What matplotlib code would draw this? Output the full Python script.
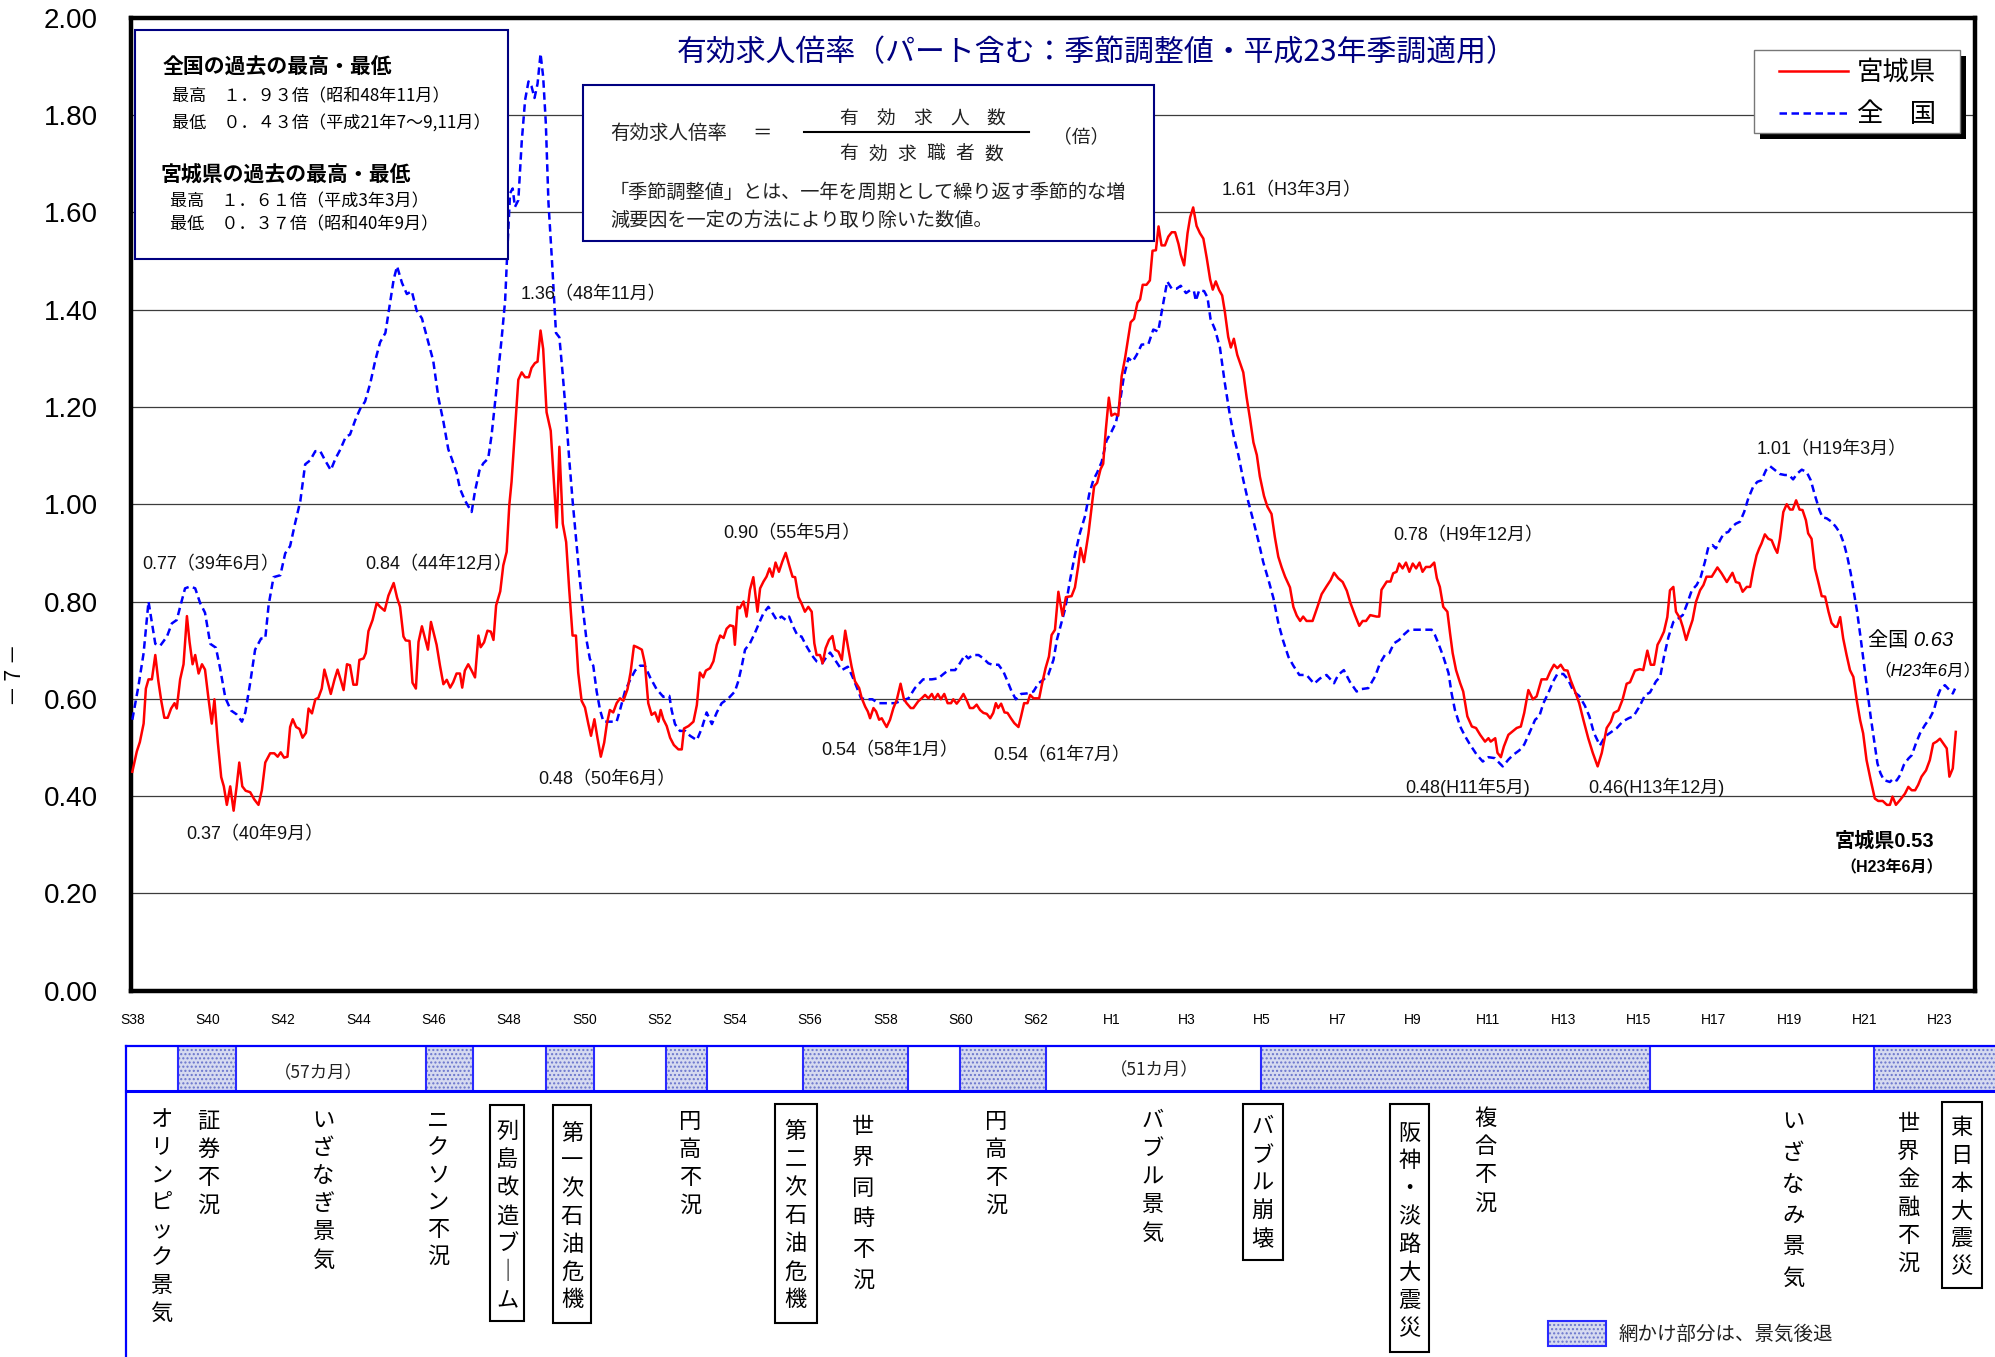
import matplotlib
matplotlib.use("Agg")
import matplotlib.pyplot as plt
from matplotlib.patches import Rectangle

# ------------------------------------------------------------------ data
miyagi_t = [
    1963.00, 1963.12, 1963.20, 1963.30, 1963.36, 1963.43, 1963.52, 1963.61, 1963.69, 1963.77,
    1963.85, 1963.94, 1964.03, 1964.12, 1964.18, 1964.27, 1964.36, 1964.45, 1964.52, 1964.60,
    1964.67, 1964.76, 1964.85, 1964.93, 1965.02, 1965.11, 1965.18, 1965.27, 1965.36, 1965.43,
    1965.51, 1965.60, 1965.69, 1965.77, 1965.84, 1965.92, 1966.01, 1966.13, 1966.24, 1966.35,
    1966.44, 1966.53, 1966.66, 1966.77, 1966.86, 1966.94, 1967.03, 1967.12, 1967.19, 1967.26,
    1967.35, 1967.44, 1967.52, 1967.61, 1967.68, 1967.77, 1967.86, 1967.94, 1968.03, 1968.10,
    1968.17, 1968.27, 1968.37, 1968.45, 1968.54, 1968.61, 1968.70, 1968.78, 1968.87, 1968.96,
    1969.03, 1969.14, 1969.20, 1969.27, 1969.38, 1969.49, 1969.58, 1969.70, 1969.80, 1969.94,
    1970.03, 1970.11, 1970.20, 1970.26, 1970.36, 1970.44, 1970.53, 1970.60, 1970.69, 1970.76,
    1970.85, 1970.93,
    1971.08, 1971.17, 1971.26, 1971.35, 1971.44, 1971.52, 1971.61, 1971.70, 1971.76, 1971.83,
    1971.92, 1972.01, 1972.10, 1972.19, 1972.25, 1972.34, 1972.43, 1972.52, 1972.59, 1972.66,
    1972.77, 1972.85, 1972.94, 1973.01, 1973.07, 1973.16, 1973.25, 1973.34, 1973.43, 1973.53,
    1973.60, 1973.69, 1973.76, 1973.84, 1973.91, 1974.00, 1974.11, 1974.18, 1974.27, 1974.34,
    1974.43, 1974.52, 1974.60, 1974.69, 1974.78, 1974.84, 1974.93, 1975.02, 1975.11, 1975.18,
    1975.27, 1975.35, 1975.44, 1975.53, 1975.60, 1975.68, 1975.77, 1975.86, 1975.95, 1976.04,
    1976.15, 1976.23, 1976.32, 1976.41, 1976.53, 1976.61, 1976.70, 1976.79, 1976.88, 1976.97,
    1977.03, 1977.10, 1977.19, 1977.28, 1977.38, 1977.50, 1977.59, 1977.65, 1977.77, 1977.90,
    1977.99, 1978.07, 1978.16, 1978.23, 1978.34, 1978.43, 1978.52, 1978.61, 1978.70, 1978.78,
    1978.87, 1978.96,
    1979.00, 1979.07, 1979.13, 1979.23, 1979.31, 1979.40, 1979.49, 1979.60, 1979.67, 1979.76,
    1979.84, 1979.92, 1980.00, 1980.08, 1980.17, 1980.26, 1980.35, 1980.44, 1980.53, 1980.60,
    1980.69, 1980.77, 1980.86, 1980.95, 1981.04, 1981.11, 1981.17, 1981.26, 1981.33, 1981.41,
    1981.50, 1981.59, 1981.66, 1981.75, 1981.84, 1981.93, 1982.01, 1982.10, 1982.19, 1982.30,
    1982.37, 1982.46, 1982.53, 1982.59, 1982.68, 1982.75, 1982.83, 1982.90, 1982.97, 1983.03,
    1983.12, 1983.21, 1983.30, 1983.40, 1983.49, 1983.56, 1983.67, 1983.74, 1983.87, 1983.96,
    1984.05, 1984.14, 1984.23, 1984.30, 1984.39, 1984.47, 1984.56, 1984.65, 1984.74, 1984.80,
    1984.89, 1984.98, 1985.07, 1985.16, 1985.24, 1985.33, 1985.42, 1985.51, 1985.60, 1985.69,
    1985.78, 1985.86, 1985.93, 1985.99, 1986.07, 1986.16, 1986.24, 1986.33, 1986.42, 1986.53,
    1986.60, 1986.68, 1986.77, 1986.84, 1986.93, 1987.08, 1987.16, 1987.25, 1987.34, 1987.41,
    1987.50, 1987.59,
    1987.70, 1987.79, 1987.94, 1988.03, 1988.12, 1988.18, 1988.27, 1988.39, 1988.47, 1988.54,
    1988.62, 1988.71, 1988.78, 1988.85, 1988.93, 1989.00, 1989.09, 1989.18, 1989.27, 1989.36,
    1989.51, 1989.60, 1989.69, 1989.76, 1989.83, 1989.93, 1990.02, 1990.09, 1990.18, 1990.25,
    1990.33, 1990.42, 1990.51, 1990.60, 1990.69, 1990.78, 1990.84, 1990.93, 1991.02, 1991.09,
    1991.17, 1991.26, 1991.35, 1991.44, 1991.53, 1991.62, 1991.69, 1991.77, 1991.86, 1991.94,
    1992.01, 1992.10, 1992.17, 1992.25, 1992.34, 1992.50, 1992.59, 1992.68, 1992.77, 1992.86,
    1992.94, 1993.05, 1993.14, 1993.25, 1993.34, 1993.43, 1993.52, 1993.61, 1993.74, 1993.83,
    1993.92, 1994.01, 1994.09, 1994.18, 1994.34, 1994.47, 1994.58, 1994.71, 1994.82, 1994.91,
    1995.02, 1995.14, 1995.25, 1995.35, 1995.47, 1995.58, 1995.67, 1995.76,
    1995.87, 1996.04, 1996.11, 1996.17, 1996.31, 1996.41, 1996.48, 1996.57, 1996.64, 1996.73,
    1996.82, 1996.91, 1997.00, 1997.09, 1997.18, 1997.26, 1997.35, 1997.46, 1997.57, 1997.64,
    1997.72, 1997.81, 1997.92, 1997.99, 1998.06, 1998.15, 1998.26, 1998.34, 1998.45, 1998.57,
    1998.68, 1998.79, 1998.92, 1999.01, 1999.07, 1999.19, 1999.25, 1999.34, 1999.42, 1999.54,
    1999.65, 1999.76, 1999.87, 1999.96, 2000.07, 2000.19, 2000.29, 2000.42, 2000.56, 2000.65,
    2000.75, 2000.84, 2000.93, 2001.02, 2001.11, 2001.19, 2001.31, 2001.42, 2001.53, 2001.66,
    2001.78, 2001.91, 2002.02, 2002.15, 2002.26, 2002.34, 2002.46, 2002.57, 2002.68, 2002.77,
    2002.90, 2003.03, 2003.12, 2003.23, 2003.32, 2003.41, 2003.50,
    2003.57, 2003.67, 2003.76, 2003.83, 2003.92, 2003.99, 2004.10, 2004.17, 2004.26, 2004.34,
    2004.43, 2004.52, 2004.63, 2004.72, 2004.80, 2004.94, 2005.09, 2005.20, 2005.34, 2005.49,
    2005.58, 2005.67, 2005.76, 2005.87, 2005.96, 2006.04, 2006.13, 2006.20, 2006.26, 2006.35,
    2006.44, 2006.53, 2006.62, 2006.68, 2006.75, 2006.84, 2006.93, 2007.02, 2007.09, 2007.18,
    2007.27, 2007.35, 2007.44, 2007.50, 2007.59, 2007.68, 2007.77, 2007.86, 2007.95, 2008.04,
    2008.12, 2008.21, 2008.27, 2008.35, 2008.43, 2008.52, 2008.61, 2008.70, 2008.79, 2008.88,
    2008.96, 2009.05, 2009.16, 2009.27, 2009.36, 2009.48, 2009.59, 2009.67, 2009.74, 2009.83,
    2009.94, 2010.07, 2010.16, 2010.25, 2010.34, 2010.42, 2010.51, 2010.63, 2010.73, 2010.82,
    2010.91, 2011.00, 2011.09, 2011.18, 2011.25, 2011.34, 2011.42,
]
miyagi_v = [
    0.450, 0.492, 0.511, 0.549, 0.621, 0.640, 0.640, 0.690, 0.637, 0.595,
    0.561, 0.561, 0.580, 0.591, 0.580, 0.640, 0.671, 0.770, 0.717, 0.671,
    0.690, 0.652, 0.671, 0.660, 0.602, 0.549, 0.599, 0.511, 0.439, 0.420,
    0.382, 0.420, 0.370, 0.420, 0.469, 0.420, 0.411, 0.408, 0.393, 0.382,
    0.412, 0.469, 0.488, 0.488, 0.481, 0.490, 0.479, 0.481, 0.542, 0.558,
    0.542, 0.538, 0.520, 0.530, 0.580, 0.570, 0.599, 0.602, 0.621, 0.660,
    0.640, 0.610, 0.640, 0.660, 0.637, 0.618, 0.671, 0.669, 0.629, 0.629,
    0.680, 0.683, 0.694, 0.739, 0.762, 0.797, 0.789, 0.781, 0.812, 0.838,
    0.808, 0.789, 0.728, 0.720, 0.719, 0.633, 0.621, 0.717, 0.749, 0.728,
    0.701, 0.758,
    0.711, 0.668, 0.630, 0.639, 0.623, 0.634, 0.652, 0.652, 0.623, 0.658,
    0.671, 0.658, 0.644, 0.730, 0.706, 0.716, 0.740, 0.738, 0.721, 0.792,
    0.821, 0.874, 0.902, 0.998, 1.046, 1.151, 1.256, 1.271, 1.261, 1.261,
    1.280, 1.290, 1.293, 1.357, 1.319, 1.189, 1.151, 1.065, 0.952, 1.118,
    0.960, 0.922, 0.826, 0.730, 0.730, 0.654, 0.596, 0.582, 0.548, 0.524,
    0.558, 0.520, 0.481, 0.510, 0.548, 0.577, 0.572, 0.591, 0.601, 0.596,
    0.620, 0.654, 0.709, 0.706, 0.701, 0.673, 0.591, 0.567, 0.572, 0.553,
    0.577, 0.558, 0.544, 0.520, 0.505, 0.496, 0.496, 0.539, 0.544, 0.553,
    0.587, 0.654, 0.644, 0.658, 0.663, 0.677, 0.711, 0.730, 0.725, 0.744,
    0.751, 0.749,
    0.711, 0.789, 0.786, 0.800, 0.769, 0.824, 0.850, 0.779, 0.827, 0.841,
    0.851, 0.868, 0.851, 0.880, 0.861, 0.882, 0.900, 0.875, 0.851, 0.850,
    0.809, 0.796, 0.779, 0.789, 0.779, 0.714, 0.690, 0.690, 0.673, 0.704,
    0.721, 0.729, 0.701, 0.697, 0.680, 0.740, 0.704, 0.666, 0.636, 0.622,
    0.601, 0.584, 0.574, 0.560, 0.581, 0.574, 0.557, 0.560, 0.550, 0.542,
    0.557, 0.581, 0.598, 0.631, 0.599, 0.591, 0.581, 0.581, 0.595, 0.601,
    0.608, 0.601, 0.610, 0.599, 0.610, 0.599, 0.610, 0.591, 0.591, 0.599,
    0.590, 0.599, 0.610, 0.596, 0.581, 0.581, 0.588, 0.577, 0.571, 0.569,
    0.560, 0.571, 0.591, 0.581, 0.590, 0.572, 0.571, 0.560, 0.550, 0.542,
    0.564, 0.591, 0.591, 0.608, 0.601, 0.601, 0.632, 0.663, 0.687, 0.731,
    0.742, 0.820,
    0.771, 0.809, 0.811, 0.829, 0.874, 0.910, 0.881, 0.940, 0.991, 1.037,
    1.044, 1.072, 1.083, 1.153, 1.219, 1.182, 1.186, 1.182, 1.263, 1.300,
    1.374, 1.381, 1.414, 1.421, 1.451, 1.451, 1.460, 1.521, 1.522, 1.571,
    1.532, 1.532, 1.550, 1.559, 1.559, 1.535, 1.513, 1.491, 1.557, 1.590,
    1.610, 1.572, 1.557, 1.546, 1.506, 1.462, 1.441, 1.458, 1.440, 1.429,
    1.396, 1.344, 1.322, 1.340, 1.307, 1.271, 1.219, 1.175, 1.127, 1.101,
    1.057, 1.017, 0.995, 0.980, 0.932, 0.892, 0.870, 0.851, 0.829, 0.789,
    0.771, 0.760, 0.769, 0.760, 0.760, 0.789, 0.815, 0.831, 0.844, 0.859,
    0.848, 0.840, 0.822, 0.796, 0.771, 0.750, 0.760, 0.760,
    0.772, 0.769, 0.769, 0.824, 0.841, 0.841, 0.858, 0.861, 0.878, 0.868,
    0.880, 0.861, 0.878, 0.868, 0.880, 0.861, 0.871, 0.871, 0.880, 0.848,
    0.830, 0.789, 0.779, 0.735, 0.694, 0.659, 0.632, 0.615, 0.564, 0.543,
    0.540, 0.526, 0.512, 0.519, 0.512, 0.519, 0.489, 0.480, 0.502, 0.526,
    0.533, 0.540, 0.543, 0.571, 0.618, 0.599, 0.605, 0.640, 0.640, 0.656,
    0.670, 0.663, 0.670, 0.659, 0.658, 0.639, 0.615, 0.591, 0.557, 0.519,
    0.489, 0.461, 0.489, 0.540, 0.553, 0.571, 0.576, 0.598, 0.631, 0.634,
    0.658, 0.661, 0.659, 0.699, 0.670, 0.670, 0.711,
    0.721, 0.738, 0.768, 0.823, 0.830, 0.779, 0.765, 0.748, 0.721, 0.741,
    0.762, 0.799, 0.823, 0.834, 0.851, 0.851, 0.870, 0.858, 0.840, 0.859,
    0.840, 0.838, 0.820, 0.830, 0.830, 0.864, 0.895, 0.909, 0.919, 0.938,
    0.929, 0.926, 0.909, 0.900, 0.929, 0.984, 1.000, 0.989, 0.989, 1.008,
    0.989, 0.988, 0.967, 0.940, 0.929, 0.868, 0.840, 0.811, 0.810, 0.779,
    0.756, 0.748, 0.748, 0.768, 0.724, 0.690, 0.659, 0.645, 0.597, 0.556,
    0.529, 0.474, 0.433, 0.395, 0.390, 0.390, 0.382, 0.382, 0.399, 0.382,
    0.392, 0.405, 0.419, 0.412, 0.412, 0.423, 0.440, 0.453, 0.474, 0.508,
    0.512, 0.518, 0.508, 0.498, 0.440, 0.457, 0.532,
]

national_t = [
    1963.00, 1963.16, 1963.30, 1963.43, 1963.61, 1963.74, 1963.92, 1964.05, 1964.18, 1964.27,
    1964.40, 1964.54, 1964.67, 1964.80, 1964.93, 1965.07, 1965.22, 1965.33, 1965.47, 1965.62,
    1965.77, 1965.91, 1966.00, 1966.13, 1966.26, 1966.42, 1966.53, 1966.62, 1966.75, 1966.93,
    1967.06, 1967.19, 1967.32, 1967.46, 1967.59, 1967.72, 1967.86, 1967.99, 1968.12, 1968.27,
    1968.39, 1968.52, 1968.67, 1968.78, 1968.92, 1969.05, 1969.18, 1969.32, 1969.45, 1969.58,
    1969.72, 1969.82, 1969.94, 1970.03, 1970.16, 1970.29, 1970.42, 1970.55, 1970.69, 1970.82,
    1970.99, 1971.13, 1971.26, 1971.39, 1971.48, 1971.61, 1971.70, 1971.83, 1971.97, 1972.01,
    1972.10, 1972.22, 1972.32, 1972.45, 1972.54, 1972.67, 1972.81, 1972.90, 1972.96, 1973.03,
    1973.10, 1973.16, 1973.25, 1973.34, 1973.43, 1973.52, 1973.60, 1973.68, 1973.76, 1973.84,
    1973.91, 1973.98, 1974.05, 1974.14, 1974.25, 1974.34, 1974.43, 1974.52, 1974.60, 1974.69,
    1974.78, 1974.87, 1974.96, 1975.06, 1975.15, 1975.24, 1975.33, 1975.42, 1975.51, 1975.64,
    1975.86, 1975.95, 1976.08, 1976.22, 1976.35, 1976.48, 1976.61, 1976.75, 1976.92, 1977.10,
    1977.26, 1977.32, 1977.41, 1977.54, 1977.68, 1977.81, 1977.99, 1978.12, 1978.25, 1978.39,
    1978.52, 1978.65, 1978.83,
    1979.00, 1979.09, 1979.18, 1979.27, 1979.40, 1979.53, 1979.64, 1979.76, 1979.89, 1980.00,
    1980.11, 1980.24, 1980.35, 1980.44, 1980.55, 1980.67, 1980.77, 1980.91, 1981.04, 1981.17,
    1981.32, 1981.44, 1981.53, 1981.66, 1981.84, 1982.00, 1982.12, 1982.23, 1982.35, 1982.50,
    1982.65, 1982.81, 1983.08, 1983.25, 1983.43, 1983.61, 1983.78, 1984.00, 1984.23, 1984.40,
    1984.54, 1984.67, 1984.85, 1984.95, 1985.11, 1985.20, 1985.31, 1985.47, 1985.60, 1985.73,
    1985.84, 1986.00, 1986.13, 1986.24, 1986.35, 1986.46, 1986.60, 1986.75, 1986.93, 1987.06,
    1987.19, 1987.32, 1987.46, 1987.55,
    1987.77, 1987.90, 1988.03, 1988.16, 1988.30, 1988.41, 1988.52, 1988.62, 1988.74, 1988.87,
    1989.00, 1989.12, 1989.23, 1989.33, 1989.45, 1989.56, 1989.67, 1989.80, 1989.98, 1990.11,
    1990.24, 1990.36, 1990.48, 1990.60, 1990.73, 1990.84, 1990.98, 1991.09, 1991.19, 1991.24,
    1991.33, 1991.46, 1991.55, 1991.63, 1991.75, 1991.88, 1992.01, 1992.13, 1992.24, 1992.37,
    1992.50, 1992.63, 1992.77, 1992.90, 1993.03, 1993.17, 1993.30, 1993.43, 1993.56, 1993.70,
    1993.83, 1993.99, 1994.18, 1994.38, 1994.54, 1994.71, 1994.91, 1995.02, 1995.17, 1995.33,
    1995.51, 1995.64, 1995.82,
    1996.00, 1996.13, 1996.26, 1996.38, 1996.50, 1996.64, 1996.75, 1996.91, 1997.10, 1997.33,
    1997.50, 1997.59, 1997.68, 1997.81, 1997.95, 1998.03, 1998.12, 1998.26, 1998.39, 1998.52,
    1998.70, 1998.86, 1999.01, 1999.18, 1999.30, 1999.39, 1999.54, 1999.67, 1999.83, 1999.96,
    2000.10, 2000.25, 2000.36, 2000.47, 2000.60, 2000.73, 2000.84, 2001.00, 2001.13, 2001.27,
    2001.42, 2001.57, 2001.69, 2001.81, 2001.97, 2002.11, 2002.24, 2002.42, 2002.57, 2002.73,
    2002.86, 2003.02, 2003.17, 2003.30, 2003.46,
    2003.57, 2003.67, 2003.79, 2003.92, 2004.05, 2004.17, 2004.27, 2004.41, 2004.54, 2004.65,
    2004.76, 2004.85, 2004.96, 2005.05, 2005.16, 2005.26, 2005.38, 2005.47, 2005.58, 2005.69,
    2005.80, 2005.91, 2006.04, 2006.15, 2006.26, 2006.38, 2006.49, 2006.62, 2006.75, 2006.88,
    2006.99, 2007.10, 2007.21, 2007.33, 2007.46, 2007.57, 2007.68, 2007.80, 2007.88, 2007.99,
    2008.12, 2008.24, 2008.35, 2008.45, 2008.54, 2008.63, 2008.72, 2008.80, 2008.89, 2008.98,
    2009.07, 2009.16, 2009.25, 2009.34, 2009.42, 2009.51, 2009.67, 2009.76, 2009.85, 2009.94,
    2010.04, 2010.16, 2010.25, 2010.36, 2010.47, 2010.60, 2010.73, 2010.84, 2010.93, 2011.02,
    2011.13, 2011.25, 2011.34, 2011.40,
]
national_v = [
    0.557, 0.625, 0.694, 0.800, 0.713, 0.709, 0.728, 0.755, 0.762, 0.789,
    0.827, 0.831, 0.827, 0.797, 0.777, 0.713, 0.705, 0.663, 0.602, 0.576,
    0.568, 0.553, 0.572, 0.633, 0.701, 0.724, 0.724, 0.793, 0.850, 0.854,
    0.899, 0.914, 0.960, 1.006, 1.082, 1.090, 1.109, 1.109, 1.090, 1.070,
    1.093, 1.112, 1.139, 1.143, 1.173, 1.196, 1.211, 1.249, 1.295, 1.333,
    1.352, 1.402, 1.462, 1.489, 1.455, 1.432, 1.438, 1.398, 1.382, 1.344,
    1.295, 1.218, 1.170, 1.113, 1.094, 1.065, 1.032, 1.008, 0.989, 0.984,
    1.027, 1.070, 1.084, 1.094, 1.142, 1.237, 1.343, 1.419, 1.524, 1.639,
    1.649, 1.611, 1.625, 1.745, 1.831, 1.869, 1.859, 1.835, 1.864, 1.926,
    1.878, 1.783, 1.620, 1.505, 1.352, 1.343, 1.266, 1.180, 1.094, 1.008,
    0.931, 0.855, 0.788, 0.721, 0.682, 0.668, 0.615, 0.577, 0.553, 0.553,
    0.553, 0.577, 0.615, 0.639, 0.658, 0.668, 0.668, 0.644, 0.620, 0.604,
    0.606, 0.577, 0.548, 0.534, 0.534, 0.524, 0.515, 0.539, 0.572, 0.548,
    0.572, 0.591, 0.601,
    0.615, 0.636, 0.666, 0.701, 0.714, 0.735, 0.755, 0.776, 0.789, 0.776,
    0.762, 0.769, 0.762, 0.769, 0.748, 0.729, 0.728, 0.707, 0.690, 0.677,
    0.673, 0.687, 0.695, 0.680, 0.659, 0.666, 0.646, 0.625, 0.601, 0.599,
    0.599, 0.591, 0.591, 0.591, 0.596, 0.601, 0.622, 0.640, 0.640, 0.642,
    0.651, 0.659, 0.659, 0.670, 0.690, 0.683, 0.690, 0.690, 0.683, 0.673,
    0.670, 0.670, 0.656, 0.636, 0.615, 0.599, 0.610, 0.611, 0.615, 0.632,
    0.639, 0.649, 0.680, 0.721,
    0.785, 0.844, 0.896, 0.940, 0.976, 1.021, 1.050, 1.065, 1.087, 1.131,
    1.149, 1.168, 1.212, 1.263, 1.300, 1.293, 1.307, 1.328, 1.329, 1.359,
    1.355, 1.407, 1.458, 1.443, 1.443, 1.449, 1.434, 1.440, 1.438, 1.418,
    1.440, 1.438, 1.425, 1.381, 1.359, 1.322, 1.249, 1.190, 1.142, 1.101,
    1.050, 1.006, 0.965, 0.925, 0.881, 0.844, 0.807, 0.756, 0.719, 0.686,
    0.668, 0.649, 0.649, 0.631, 0.642, 0.649, 0.632, 0.649, 0.659, 0.635,
    0.615, 0.620, 0.622,
    0.646, 0.673, 0.690, 0.694, 0.714, 0.721, 0.731, 0.742, 0.742, 0.742,
    0.742, 0.731, 0.714, 0.687, 0.653, 0.612, 0.577, 0.543, 0.523, 0.506,
    0.485, 0.471, 0.480, 0.478, 0.468, 0.461, 0.475, 0.485, 0.494, 0.506,
    0.530, 0.557, 0.564, 0.591, 0.612, 0.636, 0.651, 0.651, 0.639, 0.615,
    0.606, 0.586, 0.564, 0.530, 0.504, 0.523, 0.530, 0.540, 0.553, 0.560,
    0.564, 0.584, 0.608, 0.613, 0.636,
    0.645, 0.686, 0.727, 0.758, 0.765, 0.772, 0.792, 0.823, 0.834, 0.851,
    0.882, 0.912, 0.916, 0.909, 0.926, 0.940, 0.943, 0.953, 0.960, 0.964,
    0.984, 1.012, 1.036, 1.046, 1.049, 1.070, 1.078, 1.070, 1.062, 1.060,
    1.060, 1.051, 1.063, 1.071, 1.066, 1.049, 1.018, 0.988, 0.973, 0.971,
    0.964, 0.953, 0.940, 0.919, 0.892, 0.858, 0.816, 0.779, 0.727, 0.673,
    0.618, 0.563, 0.515, 0.467, 0.447, 0.433, 0.429, 0.436, 0.432, 0.443,
    0.464, 0.477, 0.484, 0.508, 0.529, 0.546, 0.560, 0.577, 0.604, 0.621,
    0.628, 0.618, 0.611, 0.621,
]

tick_years = list(range(1963, 2012, 2))
tick_labels = ["S38", "S40", "S42", "S44", "S46", "S48", "S50", "S52", "S54", "S56",
               "S58", "S60", "S62", "H1", "H3", "H5", "H7", "H9", "H11", "H13",
               "H15", "H17", "H19", "H21", "H23"]
y_ticks = [0.0, 0.2, 0.4, 0.6, 0.8, 1.0, 1.2, 1.4, 1.6, 1.8, 2.0]

recession_start = [1964.22, 1970.79, 1973.98, 1977.18, 1980.80, 1984.99, 1992.98, 2009.26]
recession_end = [1965.75, 1972.04, 1975.27, 1978.26, 1983.59, 1987.25, 2003.31, 2012.60]

series_names = ["宮城県", "全　国"]
title = "有効求人倍率（パート含む：季節調整値・平成23年季調適用）"

peak_labels = ["0.77（39年6月）", "0.84（44年12月）", "0.37（40年9月）", "0.48（50年6月）",
               "1.36（48年11月）", "0.90（55年5月）", "0.54（58年1月）", "0.54（61年7月）",
               "1.61（H3年3月）", "0.78（H9年12月）", "0.48(H11年5月)", "0.46(H13年12月)",
               "1.01（H19年3月）"]

event_labels = ["オリンピック景気", "証券不況", "いざなぎ景気", "ニクソン不況", "列島改造ブーム",
                "第一次石油危機", "円高不況", "第二次石油危機", "世界同時不況", "円高不況",
                "バブル景気", "バブル崩壊", "阪神・淡路大震災", "複合不況", "いざなみ景気",
                "世界金融不況", "東日本大震災"]

# ------------------------------------------------------------------ figure
n = min(len(miyagi_t), len(miyagi_v))
miyagi_t, miyagi_v = miyagi_t[:n], miyagi_v[:n]
n = min(len(national_t), len(national_v))
national_t, national_v = national_t[:n], national_v[:n]

CJK = ["Noto Sans CJK JP", "DejaVu Sans"]
SANS = ["Liberation Sans", "Noto Sans CJK JP", "DejaVu Sans"]
plt.rcParams["font.family"] = CJK
plt.rcParams["hatch.linewidth"] = 1.0

W, H, DPI = 1995, 1357, 100
fig = plt.figure(figsize=(W / DPI, H / DPI), dpi=DPI, facecolor="white")

X0, X1 = 1962.965, 2011.93
L, R, T, B = 131.0, 1975.0, 17.7, 990.7

ax = fig.add_axes([L / W, 1 - B / H, (R - L) / W, (B - T) / H])
ax.set_xlim(X0, X1)
ax.set_ylim(0, 2)
for yv in y_ticks[1:-1]:
    ax.axhline(yv, color="#3c3c3c", lw=0.9, zorder=1)
ax.plot(national_t, national_v, color="#0000ff", lw=1.8, ls=(0, (3, 1.8)), zorder=3,
        label=series_names[1])
ax.plot(miyagi_t, miyagi_v, color="#ff0000", lw=1.8, zorder=4, label=series_names[0])
ax.set_yticks(y_ticks)
ax.set_yticklabels([f"{v:.2f}" for v in y_ticks], fontsize=20, family=SANS)
ax.set_xticks(tick_years)
ax.set_xticklabels(tick_labels, fontsize=10, family=SANS)
ax.tick_params(axis="y", length=0, pad=24)
ax.tick_params(axis="x", length=0, pad=16)
for s in ax.spines.values():
    s.set_linewidth(3.2)
    s.set_color("black")

# recession band row (same year scale as the main axes)
ppy = (R - L) / (X1 - X0)
axb = fig.add_axes([0, 1 - 1090.5 / H, 1, 45 / H])
axb.set_xlim(X0 - L / ppy, X0 + (W - L) / ppy)
axb.set_ylim(0, 1)
axb.axis("off")
for s0, e0 in zip(recession_start, recession_end):
    axb.axvspan(s0, e0, facecolor="#d6daf0", edgecolor="#6a75cc", hatch="....", lw=0)
    axb.axvspan(s0, e0, fill=False, edgecolor="#2a2aff", lw=1.5)

# overlay in pixel coordinates for decorations
ov = fig.add_axes([0, 0, 1, 1], zorder=10)
ov.set_xlim(0, W)
ov.set_ylim(H, 0)
ov.axis("off")

# band outline
ov.plot([125.5, W], [1045.5, 1045.5], color="#0000ff", lw=1.6)
ov.plot([125.5, W], [1090.5, 1090.5], color="#0000ff", lw=2.2)
ov.plot([125.5, 125.5], [1045.5, H], color="#0000ff", lw=1.6)
ov.text(318, 1073, "（57カ月）", ha="center", va="center", fontsize=12.5, color="#222222")
ov.text(1154, 1070, "（51カ月）", ha="center", va="center", fontsize=12.5, color="#222222")

# title
ov.text(1097, 53, title, ha="center", va="center", fontsize=21.5, color="#000080")

# info box
ov.add_patch(Rectangle((134.8, 29.5), 372.7, 229, facecolor="white", edgecolor="#000080", lw=1.5))
ov.text(163, 67, "全国の過去の最高・最低", ha="left", va="center", fontsize=15, weight="bold")
ov.text(172, 96, "最高　１．９３倍（昭和48年11月）", ha="left", va="center", fontsize=12.3)
ov.text(172, 123.5, "最低　０．４３倍（平成21年7～9,11月）", ha="left", va="center", fontsize=12.3)
ov.text(161, 175, "宮城県の過去の最高・最低", ha="left", va="center", fontsize=15, weight="bold")
ov.text(170, 201, "最高　１．６１倍（平成3年3月）", ha="left", va="center", fontsize=12.3)
ov.text(170, 224, "最低　０．３７倍（昭和40年9月）", ha="left", va="center", fontsize=12.3)

# formula box
ov.add_patch(Rectangle((582.6, 85), 571.4, 155.5, facecolor="white", edgecolor="#000080", lw=1.5))
ov.text(610, 133.5, "有効求人倍率", ha="left", va="center", fontsize=14, color="#222222")
ov.text(762, 133.5, "＝", ha="center", va="center", fontsize=14, color="#222222")
for i, ch in enumerate("有効求人数"):
    ov.text(849 + i * 36.8, 118.5, ch, ha="center", va="center", fontsize=13.5, color="#222222")
for i, ch in enumerate("有効求職者数"):
    ov.text(849 + i * 29.0, 154, ch, ha="center", va="center", fontsize=13.5, color="#222222")
ov.plot([803.6, 1028.6], [132, 132], color="black", lw=1.5)
ov.text(1081, 137, "（倍）", ha="center", va="center", fontsize=13.5, color="#222222")
ov.text(610, 192.5, "「季節調整値」とは、一年を周期として繰り返す季節的な増",
        ha="left", va="center", fontsize=13.8, color="#222222")
ov.text(610, 220, "減要因を一定の方法により取り除いた数値。",
        ha="left", va="center", fontsize=13.8, color="#222222")

# legend (manual, with drop shadow)
ov.add_patch(Rectangle((1760, 56), 205.7, 83.3, facecolor="black", edgecolor="none"))
ov.add_patch(Rectangle((1753.8, 50), 205.7, 83.3, facecolor="white", edgecolor="#777777", lw=1))
ov.plot([1778.6, 1847.6], [70.7, 70.7], color="#ff0000", lw=1.8)
ov.plot([1778.6, 1847.6], [112.7, 112.7], color="#0000ff", lw=1.8, ls=(0, (3, 1.8)))
ov.text(1857, 72, series_names[0], ha="left", va="center", fontsize=19)
ov.text(1857, 115, series_names[1], ha="left", va="center", fontsize=19)

# peak / trough annotations
peak_pos = [(142, 565), (365, 565), (186, 835), (538, 780), (521, 295), (723, 534),
            (821, 751), (993, 756), (1222, 191), (1393, 536), (1405, 787), (1588, 787),
            (1757, 450)]
for txt, (px, py) in zip(peak_labels, peak_pos):
    ov.text(px, py, txt, ha="left", va="center", fontsize=13, family=SANS, color="#111111")

ov.text(1868, 641, "全国 0.63", ha="left", va="center", fontsize=14.5, style="italic", family=SANS)
ov.text(1874, 670, "（H23年6月）", ha="left", va="center", fontsize=12, style="italic", family=SANS)
ov.text(1835, 841, "宮城県0.53", ha="left", va="center", fontsize=14.5, weight="bold", family=SANS)
ov.text(1840, 867.5, "（H23年6月）", ha="left", va="center", fontsize=11.5, weight="bold", family=SANS)

# page number
ov.text(15, 675, "－ 7 －", ha="center", va="center", fontsize=15, rotation=90)

# vertical event labels
event_layout = [
    (161.5, 1120, 27.6, None),
    (208, 1121.7, 27.8, None),
    (323, 1120, 28.0, None),
    (438, 1120, 27.3, None),
    (507.5, 1131.7, 28.05, (490.4, 1105, 524.2, 1320.7)),
    (572, 1133, 27.8, (552.9, 1105, 591.1, 1322.7)),
    (689.8, 1121.7, 27.8, None),
    (795.5, 1131.7, 28.05, (775.2, 1104.3, 816.6, 1322.7)),
    (863.5, 1126.7, 30.7, None),
    (996, 1121.7, 27.8, None),
    (1152.3, 1120, 28.3, None),
    (1262.7, 1126.7, 28.3, (1243, 1104, 1283, 1260)),
    (1409.3, 1133, 27.9, (1389.6, 1104, 1428.9, 1351.7)),
    (1485.4, 1118, 28.3, None),
    (1793, 1121.7, 31.3, None),
    (1908.6, 1123, 28.0, None),
    (1961.3, 1128, 27.7, (1942.3, 1101.7, 1981.6, 1288.3)),
]
for name, (px, py0, step, box) in zip(event_labels, event_layout):
    for i, ch in enumerate(name):
        if ch == "ー":
            ch = "｜"
        ov.text(px, py0 + i * step, ch, ha="center", va="center", fontsize=16)
    if box is not None:
        ov.add_patch(Rectangle((box[0], box[1]), box[2] - box[0], box[3] - box[1],
                               fill=False, edgecolor="black", lw=1.5))

# shading legend
ov.add_patch(Rectangle((1547.6, 1321), 58.4, 25, facecolor="#d6daf0", edgecolor="#6a75cc",
                       hatch="....", lw=0))
ov.add_patch(Rectangle((1547.6, 1321), 58.4, 25, fill=False, edgecolor="#2a2aff", lw=1.5))
ov.text(1619, 1334, "網かけ部分は、景気後退", ha="left", va="center", fontsize=14, color="#222222")

fig.savefig("out.png", dpi=DPI, facecolor="white")
